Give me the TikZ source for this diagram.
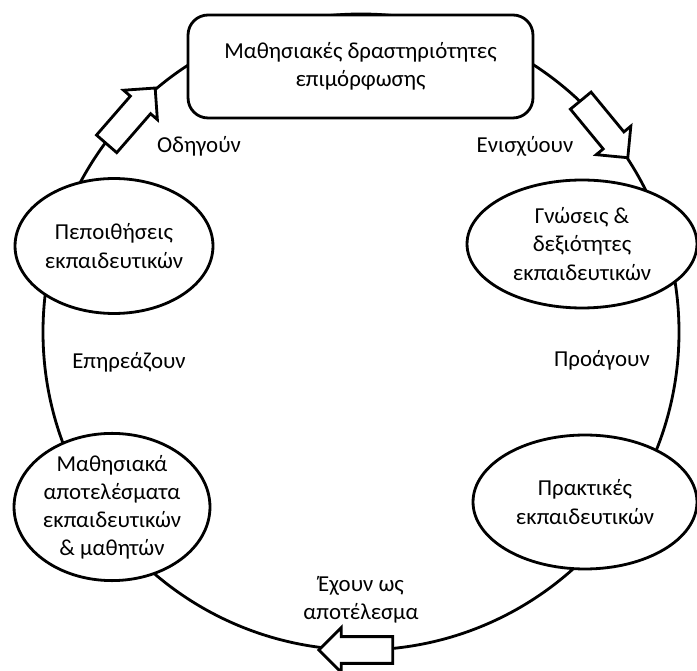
\documentclass[tikz,border=0pt]{standalone}
\usepackage{fontspec}
\setmainfont{Carlito}
\usetikzlibrary{shapes.geometric,shapes.arrows}

\begin{document}
\begin{tikzpicture}[x=0.02cm, y=0.02cm, line width=1.6pt,
  every node/.style={font=\fontsize{13}{16}\selectfont},
  phase/.style={ellipse, draw, fill=white, align=center, inner sep=0pt},
  verb/.style={align=center},
  bigarrow/.style={single arrow, draw, fill=white, inner xsep=0pt, inner ysep=0.24cm, minimum height=1.48cm, minimum width=0.84cm, single arrow head extend=0.18cm}]
  \useasboundingbox (0,0) rectangle (697,670);
  \coordinate (c) at (361,338);
  \draw (c) circle (318);
  \node[draw, fill=white, rounded corners=0.4cm, minimum width=6.9cm, minimum height=2.06cm, align=center] (act) at (360.5,603.5) {Μαθησιακές δραστηριότητες\\επιμόρφωσης};
  \node[phase, minimum width=4.6cm, minimum height=2.56cm] (skills) at (582,426) {Γνώσεις \&\\δεξιότητες\\εκπαιδευτικών};
  \node[phase, minimum width=4.48cm, minimum height=2.68cm] (practice) at (585,168) {Πρακτικές\\εκπαιδευτικών};
  \node[phase, minimum width=3.92cm, minimum height=2.6cm] (outcome) at (112,163) {Μαθησιακά\\αποτελέσματα\\εκπαιδευτικών\\\& μαθητών};
  \node[phase, minimum width=3.96cm, minimum height=2.7cm] (belief) at (114,424) {Πεποιθήσεις\\εκπαιδευτικών};
  \node[bigarrow, rotate=49] (lead) at (126.5,549) {};
  \node[bigarrow, rotate=-50.5] (boost) at (600,546) {};
  \node[bigarrow, rotate=180] (result) at (362.5,20) {};
  \node[verb] (leadtxt) at (199,524) {Οδηγούν};
  \node[verb] (boosttxt) at (525,524) {Ενισχύουν};
  \node[verb] (promote) at (602,310) {Προάγουν};
  \node[verb] (resulttxt) at (361,70) {Έχουν ως\\αποτέλεσμα};
  \node[verb] (affect) at (129,308) {Επηρεάζουν};
\end{tikzpicture}
\end{document}
